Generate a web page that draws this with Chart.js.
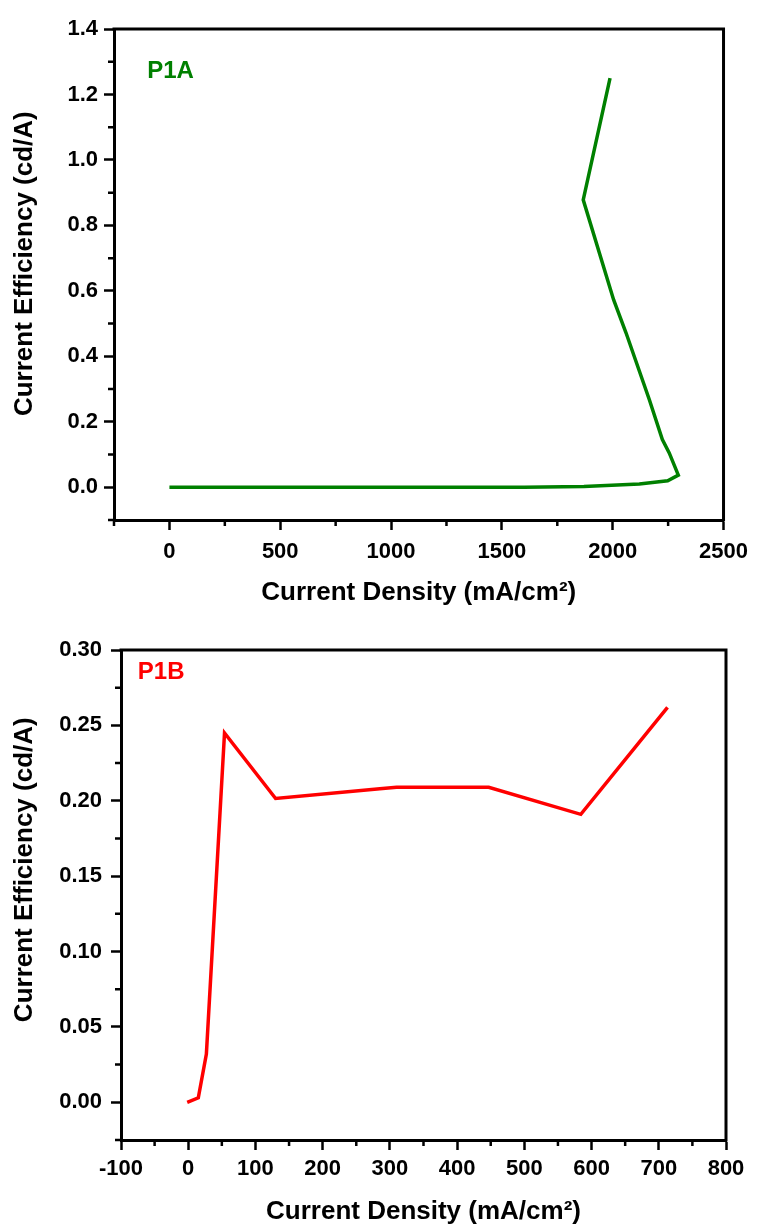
<!DOCTYPE html>
<html lang="en">
<head>
    <meta charset="UTF-8">
    <title>Current Efficiency vs Current Density</title>
    <script src="https://cdn.jsdelivr.net/npm/chart.js"></script>
    <style>
        body { margin: 0; background: #fff; }
        .box { position: absolute; left: 0; width: 757px; }
    </style>
</head>
<body>
    <div class="box" style="top: 0; height: 610px;">
        <canvas id="chartA" width="757" height="610"></canvas>
    </div>
    <div class="box" style="top: 610px; height: 617px;">
        <canvas id="chartB" width="757" height="617"></canvas>
    </div>
    <script>
        // P1A
        const densityA = [0, 150, 400, 700, 1000, 1300, 1600, 1870, 2120, 2248, 2296, 2255, 2224, 2165, 2060, 2004, 1867, 1988];
        const efficiencyA = [0, 0, 0, 0, 0, 0, 0, 0.002, 0.010, 0.020, 0.037, 0.105, 0.146, 0.268, 0.472, 0.573, 0.878, 1.25];
        const xTicksA = [0, 500, 1000, 1500, 2000, 2500];
        const xMinorA = [-250, 250, 750, 1250, 1750, 2250];
        const yTicksA = [0, 0.2, 0.4, 0.6, 0.8, 1.0, 1.2, 1.4];
        const yMinorA = [-0.1, 0.1, 0.3, 0.5, 0.7, 0.9, 1.1, 1.3];

        // P1B
        const densityB = [-1.5, 15, 27, 54, 130, 285, 310, 447, 584, 713];
        const efficiencyB = [0, 0.003, 0.032, 0.245, 0.2015, 0.208, 0.209, 0.209, 0.191, 0.262];
        const xTicksB = [-100, 0, 100, 200, 300, 400, 500, 600, 700, 800];
        const xMinorB = [-50, 50, 150, 250, 350, 450, 550, 650, 750];
        const yTicksB = [0, 0.05, 0.10, 0.15, 0.20, 0.25, 0.30];
        const yMinorB = [-0.025, 0.025, 0.075, 0.125, 0.175, 0.225, 0.275];

        const FONT = "'Liberation Sans', Arial, sans-serif";

        // frame on top/right, minor ticks, panel label
        const framePlugin = {
            id: 'frame',
            afterDraw(chart, args, opts) {
                const ctx = chart.ctx;
                const a = chart.chartArea;
                const xs = chart.scales.x, ys = chart.scales.y;
                ctx.save();
                ctx.strokeStyle = '#000';
                ctx.lineWidth = 3;
                ctx.beginPath();
                ctx.moveTo(a.left - 1.5, a.top);
                ctx.lineTo(a.right, a.top);
                ctx.lineTo(a.right, a.bottom + 1.5);
                ctx.stroke();
                ctx.lineWidth = 2.5;
                ctx.beginPath();
                opts.xMinor.forEach(v => {
                    const px = xs.getPixelForValue(v);
                    ctx.moveTo(px, a.bottom);
                    ctx.lineTo(px, a.bottom + 6);
                });
                opts.yMinor.forEach(v => {
                    const py = ys.getPixelForValue(v);
                    ctx.moveTo(a.left, py);
                    ctx.lineTo(a.left - 6, py);
                });
                ctx.stroke();
                ctx.fillStyle = opts.color;
                ctx.font = 'bold 24px ' + FONT;
                ctx.textBaseline = 'middle';
                ctx.fillText(opts.label, xs.getPixelForValue(opts.at[0]), ys.getPixelForValue(opts.at[1]));
                ctx.restore();
            }
        };

        function makeChart(id, cfg) {
            const ctx = document.getElementById(id).getContext('2d');
            return new Chart(ctx, {
                type: 'scatter',
                data: {
                    datasets: [{
                        data: cfg.xs.map((x, i) => ({ x: x, y: cfg.ys[i] })),
                        showLine: true,
                        borderColor: cfg.color,
                        borderWidth: 3.5,
                        pointRadius: 0,
                        fill: false,
                        tension: 0,
                    }],
                },
                plugins: [framePlugin],
                options: {
                    responsive: false,
                    animation: false,
                    devicePixelRatio: 1,
                    layout: { padding: cfg.padding },
                    plugins: {
                        legend: { display: false },
                        tooltip: { enabled: false },
                        frame: { xMinor: cfg.xMinor, yMinor: cfg.yMinor, color: cfg.color, label: cfg.label, at: cfg.labelAt },
                    },
                    scales: {
                        x: {
                            type: 'linear',
                            min: cfg.xMin,
                            max: cfg.xMax,
                            afterBuildTicks: s => { s.ticks = cfg.xTicks.map(v => ({ value: v })); },
                            afterFit: s => { s.height = cfg.xHeight; },
                            grid: { drawOnChartArea: false, tickLength: 10, tickWidth: 2.5, tickColor: '#000' },
                            border: { display: true, color: '#000', width: 3 },
                            ticks: {
                                color: '#000',
                                padding: cfg.xTickPad,
                                maxRotation: 0,
                                font: { family: FONT, size: 22, weight: 'bold' },
                                callback: v => String(v),
                            },
                            title: {
                                display: true,
                                text: 'Current Density (mA/cm²)',
                                color: '#000',
                                font: { family: FONT, size: 26, weight: 'bold' },
                                padding: { top: 0, bottom: cfg.xTitlePad },
                            },
                        },
                        y: {
                            type: 'linear',
                            min: cfg.yMin,
                            max: cfg.yMax,
                            afterBuildTicks: s => { s.ticks = cfg.yTicks.map(v => ({ value: v })); },
                            afterFit: s => { s.width = cfg.yWidth; },
                            grid: { drawOnChartArea: false, tickLength: 10, tickWidth: 2.5, tickColor: '#000' },
                            border: { display: true, color: '#000', width: 3 },
                            ticks: {
                                color: '#000',
                                padding: cfg.yTickPad,
                                font: { family: FONT, size: 22, weight: 'bold' },
                                callback: v => v.toFixed(cfg.yDigits),
                            },
                            title: {
                                display: true,
                                // leading spaces nudge the rotated title upward like the original
                                text: cfg.yTitle,
                                color: '#000',
                                font: { family: FONT, size: 26, weight: 'bold' },
                                padding: { top: cfg.yTitlePad, bottom: 0 },
                            },
                        },
                    },
                },
            });
        }

        makeChart('chartA', {
            xs: densityA, ys: efficiencyA, color: '#008000', label: 'P1A', labelAt: [-100, 1.27],
            xMin: -250, xMax: 2500, yMin: -0.1, yMax: 1.4,
            xTicks: xTicksA, xMinor: xMinorA, yTicks: yTicksA, yMinor: yMinorA, yDigits: 1,
            padding: { left: 0, right: 32, top: 29, bottom: 0 },
            xHeight: 90, yWidth: 114, xTickPad: 9, yTickPad: 6, xTitlePad: 2, yTitlePad: 9,
            yTitle: '   Current Efficiency (cd/A)',
        });

        makeChart('chartB', {
            xs: densityB, ys: efficiencyB, color: '#ff0000', label: 'P1B', labelAt: [-75, 0.285],
            xMin: -100, xMax: 800, yMin: -0.025, yMax: 0.30,
            xTicks: xTicksB, xMinor: xMinorB, yTicks: yTicksB, yMinor: yMinorB, yDigits: 2,
            padding: { left: 0, right: 31, top: 40, bottom: 0 },
            xHeight: 87, yWidth: 121, xTickPad: 6, yTickPad: 9, xTitlePad: 0, yTitlePad: 9,
            yTitle: '       Current Efficiency (cd/A)',
        });
    </script>
</body>
</html>
